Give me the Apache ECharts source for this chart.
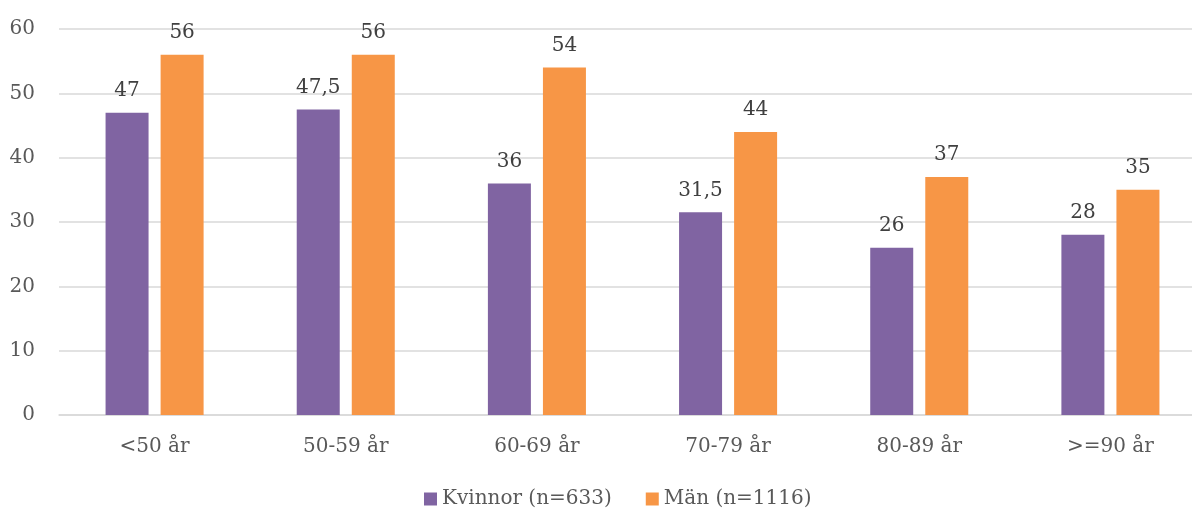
<!DOCTYPE html>
<html>
<head>
<meta charset="utf-8">
<script src="https://cdn.jsdelivr.net/npm/echarts@6/dist/echarts.min.js"></script>
<style>html,body{margin:0;padding:0;background:#fff}#c{width:1192px;height:509px}</style>
</head>
<body>
<div id="c"></div>
<script>
var categories = ['<50 år', '50-59 år', '60-69 år', '70-79 år', '80-89 år', '>=90 år'];
var kvinnor = [47, 47.5, 36, 31.5, 26, 28];
var man = [56, 56, 54, 44, 37, 35];
var seriesNames = ['Kvinnor (n=633)', 'Män (n=1116)'];
var yTicks = { min: 0, max: 60, interval: 10 };

var FONT = 'DejaVu Serif';
function fmt(p) { return String(p.value).replace('.', ','); }
var chart = echarts.init(document.getElementById('c'), null, { renderer: 'canvas' });
chart.setOption({
  animation: false,
  textStyle: { fontFamily: FONT },
  grid: { left: 59, width: 1147, top: 29, bottom: 94, containLabel: false, outerBoundsMode: 'none' },
  legend: {
    left: 424, top: 489, padding: 0,
    itemWidth: 13, itemHeight: 13, itemGap: 34,
    icon: 'rect',
    textStyle: { fontFamily: FONT, fontSize: 20, color: '#595959', padding: [0, 0, 0, 0] },
    data: seriesNames
  },
  xAxis: {
    type: 'category', data: categories,
    axisLine: { lineStyle: { color: '#d9d9d9', width: 1.5 } },
    axisTick: { show: false },
    axisLabel: { fontFamily: FONT, fontSize: 20, color: '#595959', margin: 22 }
  },
  yAxis: {
    type: 'value', min: yTicks.min, max: yTicks.max, interval: yTicks.interval,
    axisLine: { show: false }, axisTick: { show: false },
    splitLine: { lineStyle: { color: '#d9d9d9', width: 1.5 } },
    axisLabel: { fontFamily: FONT, fontSize: 20, color: '#595959', margin: 24 }
  },
  series: [
    { name: seriesNames[0], type: 'bar', data: kvinnor, barWidth: 43, barGap: '28%',
      itemStyle: { color: '#8064a2' },
      label: { show: true, position: 'top', distance: 12, fontFamily: FONT, fontSize: 20, color: '#404040', formatter: fmt } },
    { name: seriesNames[1], type: 'bar', data: man, barWidth: 43, barGap: '28%',
      itemStyle: { color: '#f79646' },
      label: { show: true, position: 'top', distance: 12, fontFamily: FONT, fontSize: 20, color: '#404040', formatter: fmt } }
  ]
});
</script>
</body>
</html>
